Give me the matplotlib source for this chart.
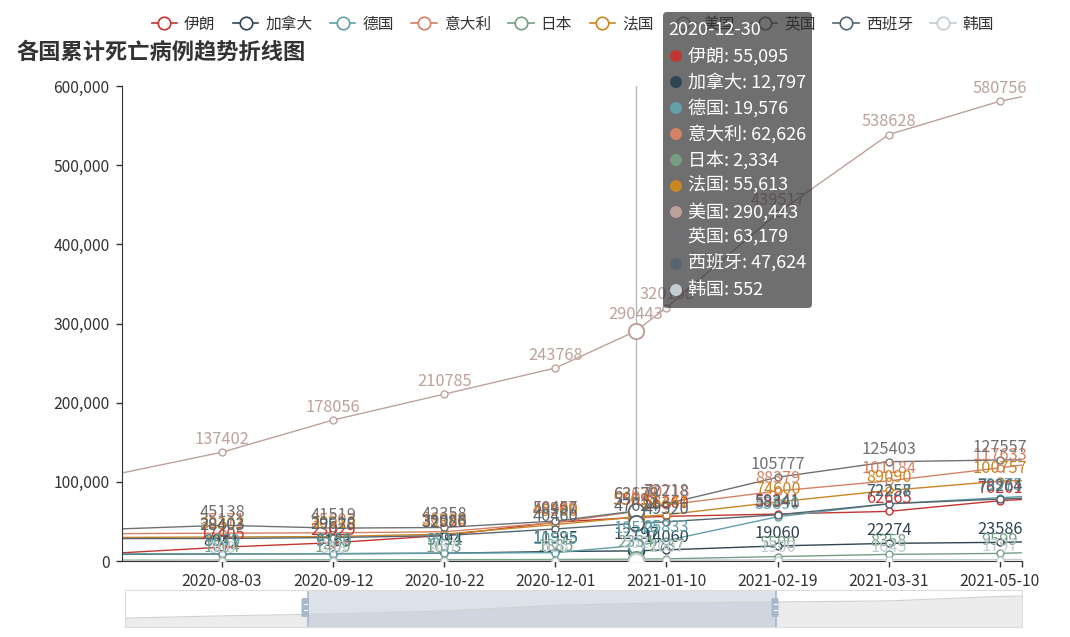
import numpy as np
import matplotlib.pyplot as plt
from matplotlib.lines import Line2D
from matplotlib.patches import FancyBboxPatch, Circle
from matplotlib.ticker import FuncFormatter

plt.rcParams['font.family'] = ['Noto Sans CJK SC', 'DejaVu Sans']

# key dates
dates = ['2020-06-28', '2020-08-03', '2020-09-12', '2020-10-22', '2020-12-01',
         '2020-12-30', '2021-01-10', '2021-02-19', '2021-03-31', '2021-05-10',
         '2021-05-18']
countries = ['伊朗', '加拿大', '德国', '意大利', '日本', '法国', '美国', '英国', '西班牙', '韩国']

iran = [10364, 17405, 23029, 32320, 48990, 55095, 56360, 59341, 62665, 76201, 77700]
canada = [8566, 8941, 9163, 9794, 11995, 12797, 14060, 19060, 22274, 23586, 24050]
germany = [8968, 9079, 9350, 9911, 10575, 19576, 25833, 55890, 72257, 79975, 81400]
italy = [34600, 35171, 35603, 36968, 48569, 62626, 70718, 88379, 101184, 117633, 121200]
japan = [972, 1004, 1409, 1673, 1885, 2334, 2737, 5590, 8358, 9599, 10400]
france = [29778, 30303, 30910, 33988, 45960, 55613, 58441, 74600, 89090, 100757, 101600]
usa = [111200, 137402, 178056, 210785, 243768, 290443, 320108, 439517, 538628, 580756, 586500]
uk = [40600, 45138, 41519, 42358, 50457, 63179, 72218, 105777, 125403, 127557, 127700]
spain = [28343, 28403, 29628, 32086, 40460, 47624, 49520, 58341, 72258, 78264, 79300]
korea = [282, 300, 358, 457, 526, 552, 1007, 1500, 1645, 1797, 1850]

series = [iran, canada, germany, italy, japan, france, usa, uk, spain, korea]
colors = ['#c23531', '#2f4554', '#61a0a8', '#d48265', '#749f83',
          '#ca8622', '#bda29a', '#6e7074', '#546570', '#c4ccd3']

tick_dates = ['2020-08-03', '2020-09-12', '2020-10-22', '2020-12-01',
              '2021-01-10', '2021-02-19', '2021-03-31', '2021-05-10']
hover_date = '2020-12-30'
zoom_window = ['2020-09-02', '2021-02-18']

x = np.array(dates, dtype='datetime64[D]')
W, H = 1070, 637
FS = 11.3

fig = plt.figure(figsize=(W / 100, H / 100), dpi=100)
ax = fig.add_axes([122 / W, 76 / H, 900 / W, 475 / H])

for name, vals, c in zip(countries, series, colors):
    ax.plot(x, vals, color=c, lw=1.0, zorder=2)
    for d in tick_dates:
        i = dates.index(d)
        ax.plot(x[i], vals[i], 'o', ms=5, mfc='white', mec=c, mew=1.0, zorder=3)
        ax.annotate(str(vals[i]), (x[i], vals[i]), xytext=(0, 3), textcoords='offset points',
                    ha='center', va='bottom', fontsize=11.8, color=c, zorder=6)

# hovered point
hx = np.datetime64(hover_date)
hi = dates.index(hover_date)
ax.axvline(hx, color='#b8b8b8', lw=1, zorder=1.5)
for name, vals, c in zip(countries, series, colors):
    ax.plot(hx, vals[hi], 'o', ms=11, mfc='white', mec=c, mew=1.4, zorder=4)
    ax.annotate(str(vals[hi]), (hx, vals[hi]), xytext=(0, 6), textcoords='offset points',
                ha='center', va='bottom', fontsize=11.8, color=c, zorder=6)

ax.set_xlim(x[0], x[-1])
ax.set_ylim(0, 600000)
ax.set_yticks(range(0, 600001, 100000))
ax.yaxis.set_major_formatter(FuncFormatter(lambda v, p: f'{int(v):,}'))
tx = np.array(tick_dates + [dates[-1]], dtype='datetime64[D]')
ax.set_xticks(tx)
ax.set_xticklabels(tick_dates + [''])
ax.tick_params(labelsize=FS, colors='#333333', length=4, width=1, pad=5)
for s in ['top', 'right']:
    ax.spines[s].set_visible(False)
for s in ['left', 'bottom']:
    ax.spines[s].set_color('#333333')

# title
fig.text(16 / W, 1 - 52 / H, '各国累计死亡病例趋势折线图', fontsize=16, fontweight='bold',
         color='#333333', va='center', ha='left')

# legend
handles = [Line2D([], [], color=c, lw=1.2, marker='o', ms=9, mfc='white', mec=c, mew=1.2)
           for c in colors]
fig.legend(handles, countries, ncol=10, loc='center', bbox_to_anchor=(573 / W, 1 - 24 / H),
           frameon=False, fontsize=FS, handlelength=1.6, handletextpad=0.45,
           columnspacing=1.12, labelcolor='#333333')

# tooltip
tr = fig.dpi_scale_trans
fig.add_artist(FancyBboxPatch((663 / 100, (H - 308) / 100), 149 / 100, 296 / 100,
                              boxstyle='round,pad=0,rounding_size=0.04', transform=tr,
                              fc=(50 / 255, 50 / 255, 50 / 255, 0.7), ec='none', zorder=20))
fig.text(668 / 100, (H - 30) / 100, hover_date, transform=tr, color='white',
         fontsize=13, va='center', zorder=21)
for k, (name, vals, c) in enumerate(zip(countries, series, colors)):
    yk = (H - (56 + 26 * k)) / 100
    fig.add_artist(Circle((676 / 100, yk), 0.06, transform=tr, fc=c, ec='none', zorder=21))
    fig.text(688 / 100, yk, f'{name}: {vals[hi]:,}', transform=tr, color='white',
             fontsize=13, va='center', zorder=21)

# data zoom slider
sx = fig.add_axes([125 / W, 10 / H, 897 / W, 37 / H])
sx.set_xlim(x[0], x[-1])
lo, hi_v = min(iran), max(iran)
span = (hi_v - lo) / 0.6
base = lo - 0.24 * span
sx.set_ylim(base, base + span)
sx.fill_between(x, iran, base, color='#ececec', lw=0)
sx.plot(x, iran, color='#d0d0d0', lw=0.8)
z0, z1 = np.array(zoom_window, dtype='datetime64[D]')
sx.axvspan(z0, z1, color=(167 / 255, 183 / 255, 204 / 255, 0.4), lw=0)
for z in (z0, z1):
    sx.axvline(z, color='#a7b7cc', lw=1.2)
sx.set_xticks([])
sx.set_yticks([])
for s in sx.spines.values():
    s.set_color('#dddddd')
for zx in (305, 775):
    fig.add_artist(FancyBboxPatch(((zx - 3.5) / 100, (H - 617) / 100), 7 / 100, 19 / 100,
                                  boxstyle='round,pad=0,rounding_size=0.015', transform=tr,
                                  fc='#a7b7cc', ec='none', zorder=5))
    for yy in (604, 610):
        fig.add_artist(Line2D([(zx - 1.5) / 100, (zx + 1.5) / 100], [(H - yy) / 100] * 2,
                              transform=tr, color='white', lw=0.8, zorder=6))

fig.savefig('out.png', dpi=100)
